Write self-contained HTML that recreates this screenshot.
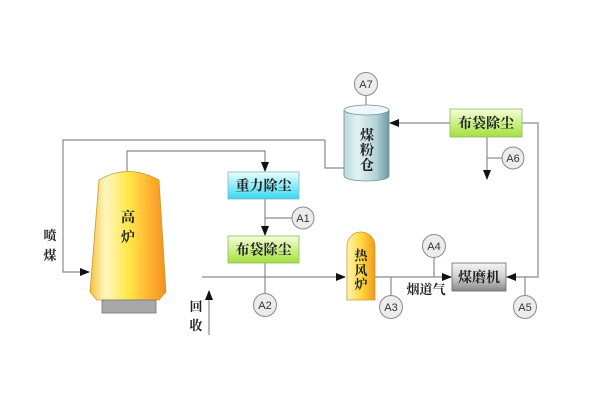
<!DOCTYPE html>
<html><head><meta charset="utf-8"><style>
html,body{margin:0;padding:0;background:#fff;}
svg{display:block;}
.t{font-family:"Liberation Serif","Noto Serif CJK SC",serif;font-weight:bold;fill:#222;}
.c{font-family:"Liberation Sans","DejaVu Sans",sans-serif;fill:#333;font-size:11px;}
.l{stroke:#8a8a8a;stroke-width:1.2;fill:none;}
</style></head><body>
<svg width="600" height="400" viewBox="0 0 600 400" xmlns="http://www.w3.org/2000/svg">
<defs>
<linearGradient id="fur" x1="0" y1="0" x2="1" y2="0">
<stop offset="0" stop-color="#f3c33a"/>
<stop offset="0.2" stop-color="#fff6c0"/>
<stop offset="0.5" stop-color="#ffe84a"/>
<stop offset="0.8" stop-color="#ffb030"/>
<stop offset="1" stop-color="#f39020"/>
</linearGradient>
<linearGradient id="cyan" x1="0" y1="0" x2="0" y2="1">
<stop offset="0" stop-color="#eaffff"/>
<stop offset="1" stop-color="#38d6ee"/>
</linearGradient>
<linearGradient id="grn" x1="0" y1="0" x2="0" y2="1">
<stop offset="0" stop-color="#f4ffd8"/>
<stop offset="1" stop-color="#a4e03c"/>
</linearGradient>
<linearGradient id="mill" x1="0" y1="0" x2="0" y2="1">
<stop offset="0" stop-color="#f4f4f4"/>
<stop offset="0.5" stop-color="#d0d0d0"/>
<stop offset="1" stop-color="#8a8a8a"/>
</linearGradient>
<linearGradient id="bin" x1="0" y1="0" x2="1" y2="0">
<stop offset="0" stop-color="#b8d8dc"/>
<stop offset="0.3" stop-color="#e2f2f2"/>
<stop offset="0.7" stop-color="#b6d4d8"/>
<stop offset="1" stop-color="#6e9aa2"/>
</linearGradient>
<linearGradient id="stove" x1="0" y1="0" x2="1" y2="0">
<stop offset="0" stop-color="#fff4b0"/>
<stop offset="0.5" stop-color="#ffd840"/>
<stop offset="1" stop-color="#f39a20"/>
</linearGradient>
<marker id="ar" markerWidth="10" markerHeight="8" refX="9" refY="4" orient="auto" markerUnits="userSpaceOnUse">
<path d="M0,0 L10,4 L0,8 Z" fill="#111"/>
</marker>
</defs>

<!-- outer coal injection loop -->
<polyline class="l" points="325,140 63,140 63,272 89,272" marker-end="url(#ar)"/>
<polyline class="l" points="325,140 325,168 344,168"/>

<!-- furnace top gas to gravity dust -->
<polyline class="l" points="127,171 127,151 265,151 265,171" marker-end="url(#ar)"/>

<!-- gravity to bag -->
<line class="l" x1="265" y1="199" x2="265" y2="235" marker-end="url(#ar)"/>
<line class="l" x1="265" y1="218" x2="292" y2="218"/>

<!-- bag to A2 -->
<line class="l" x1="265" y1="263" x2="265" y2="293"/>

<!-- gas line to stove -->
<line class="l" x1="202" y1="277" x2="345" y2="277" marker-end="url(#ar)"/>
<!-- recovery arrow -->
<line class="l" x1="209" y1="335" x2="209" y2="291" marker-end="url(#ar)"/>

<!-- stove to mill -->
<line class="l" x1="375" y1="277" x2="451" y2="277" marker-end="url(#ar)"/>
<line class="l" x1="391" y1="277" x2="391" y2="296"/>
<line class="l" x1="434" y1="257" x2="434" y2="277"/>

<!-- right loop -->
<polyline class="l" points="522,123 538,123 538,277 507,277" marker-end="url(#ar)"/>
<line class="l" x1="525" y1="277" x2="525" y2="296"/>

<!-- upper bag to bin -->
<line class="l" x1="450" y1="123" x2="390" y2="123" marker-end="url(#ar)"/>
<line class="l" x1="487" y1="137" x2="487" y2="179" marker-end="url(#ar)"/>
<line class="l" x1="487" y1="158" x2="502" y2="158"/>

<!-- A7 to bin -->
<line class="l" x1="366" y1="96" x2="366" y2="106"/>

<!-- blast furnace -->
<path d="M99,180 Q128,163 159,180 L166,292 L159,300 L97,300 L90,292 Z" fill="url(#fur)" stroke="#c89a30" stroke-width="0.8"/>
<rect x="102" y="300" width="54" height="13" fill="#a8a8a8" stroke="#777" stroke-width="0.8"/>
<text class="t" x="128" y="222" font-size="14" text-anchor="middle">高</text>
<text class="t" x="128" y="242" font-size="14" text-anchor="middle">炉</text>

<!-- labels -->
<text class="t" x="50" y="240" font-size="13" text-anchor="middle">喷</text>
<text class="t" x="50" y="260" font-size="13" text-anchor="middle">煤</text>
<text class="t" x="196" y="311" font-size="13" text-anchor="middle">回</text>
<text class="t" x="196" y="330" font-size="13" text-anchor="middle">收</text>
<text class="t" x="426" y="294" font-size="13" text-anchor="middle">烟道气</text>

<!-- gravity dust -->
<rect x="228" y="172" width="71" height="27" fill="url(#cyan)" stroke="#7fb8c4" stroke-width="0.8"/>
<text class="t" x="263.5" y="190.5" font-size="14" text-anchor="middle">重力除尘</text>

<!-- lower bag -->
<rect x="228" y="236" width="71" height="27" fill="url(#grn)" stroke="#90b860" stroke-width="0.8"/>
<text class="t" x="263.5" y="254.5" font-size="14" text-anchor="middle">布袋除尘</text>

<!-- upper bag -->
<rect x="450" y="109" width="72" height="28" fill="url(#grn)" stroke="#90b860" stroke-width="0.8"/>
<text class="t" x="486" y="128" font-size="14" text-anchor="middle">布袋除尘</text>

<!-- coal bin -->
<path d="M344,110 L344,176 A22.5,5 0 0 0 389,176 L389,110 Z" fill="url(#bin)" stroke="#6f8f94" stroke-width="0.8"/>
<ellipse cx="366.5" cy="110" rx="22.5" ry="5" fill="#eef8f8" stroke="#6f8f94" stroke-width="0.8"/>
<text class="t" x="367" y="140" font-size="14" text-anchor="middle">煤</text>
<text class="t" x="367" y="155" font-size="14" text-anchor="middle">粉</text>
<text class="t" x="367" y="170" font-size="14" text-anchor="middle">仓</text>

<!-- hot stove -->
<path d="M347,300 L347,246 A14,14 0 0 1 375,246 L375,300 Z" fill="url(#stove)" stroke="#c89a30" stroke-width="0.8"/>
<text class="t" x="361" y="260" font-size="13" text-anchor="middle">热</text>
<text class="t" x="361" y="275" font-size="13" text-anchor="middle">风</text>
<text class="t" x="361" y="289" font-size="13" text-anchor="middle">炉</text>

<!-- coal mill -->
<rect x="452" y="263" width="54" height="28" fill="url(#mill)" stroke="#666" stroke-width="0.8"/>
<text class="t" x="479" y="282" font-size="14" text-anchor="middle">煤磨机</text>

<!-- circles -->
<g fill="#ececec" stroke="#8a8a8a" stroke-width="1">
<circle cx="366" cy="84" r="11.5"/>
<circle cx="513" cy="158" r="11"/>
<circle cx="303" cy="218" r="11"/>
<circle cx="265" cy="305" r="11.5"/>
<circle cx="391" cy="307" r="11.5"/>
<circle cx="434" cy="246" r="11.5"/>
<circle cx="525" cy="307" r="11.5"/>
</g>
<text class="c" x="366" y="88" text-anchor="middle">A7</text>
<text class="c" x="513" y="162" text-anchor="middle">A6</text>
<text class="c" x="303" y="222" text-anchor="middle">A1</text>
<text class="c" x="265" y="309" text-anchor="middle">A2</text>
<text class="c" x="391" y="311" text-anchor="middle">A3</text>
<text class="c" x="434" y="250" text-anchor="middle">A4</text>
<text class="c" x="525" y="311" text-anchor="middle">A5</text>
</svg>
</body></html>
